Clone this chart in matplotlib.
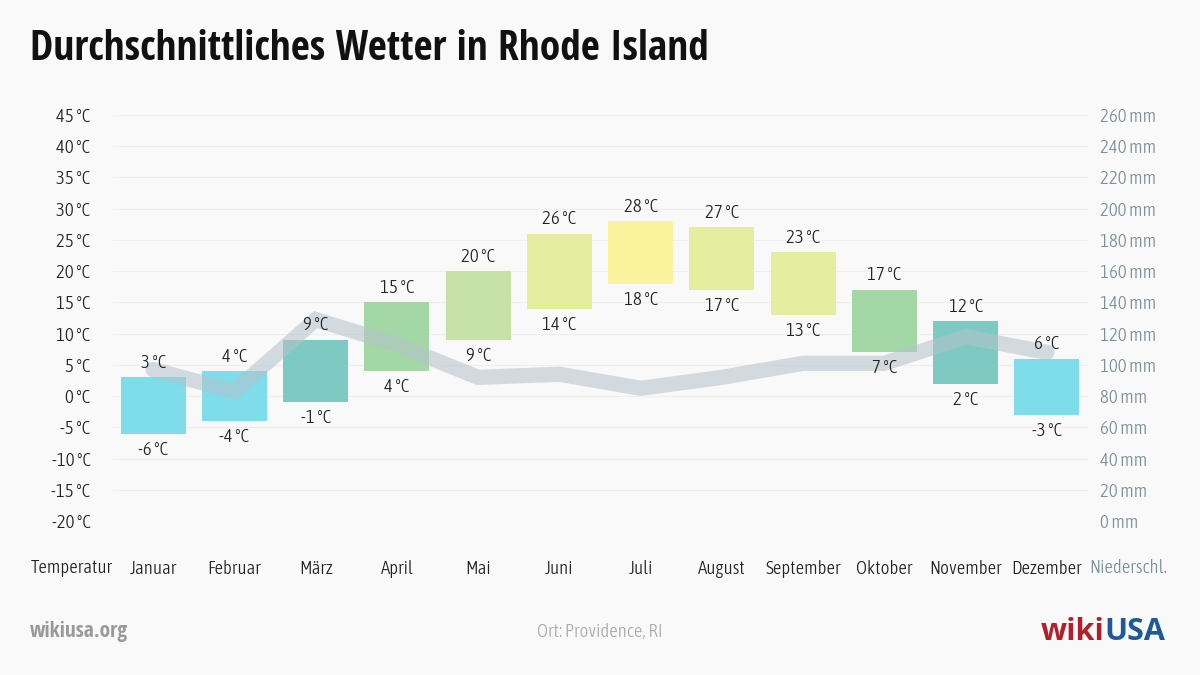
import matplotlib.pyplot as plt
from matplotlib import font_manager
from matplotlib.font_manager import FontProperties
import numpy as np

months = ['Januar', 'Februar', 'März', 'April', 'Mai', 'Juni', 'Juli',
          'August', 'September', 'Oktober', 'November', 'Dezember']
t_max = [3, 4, 9, 15, 20, 26, 28, 27, 23, 17, 12, 6]
t_min = [-6, -4, -1, 4, 9, 14, 18, 17, 13, 7, 2, -3]
precip = [97, 83, 129, 113, 92, 94, 85, 92, 101, 101, 118, 108]
colors = ['#7fdce9', '#7fdce9', '#7ecac3', '#a3d7a6', '#c6e2a7', '#e5ee9f',
          '#fbf39c', '#e5ee9f', '#e5ee9f', '#a3d7a6', '#7ecac3', '#7fdce9']

fonts = font_manager.fontManager.ttflist
names = {f.name for f in fonts}


def wnum(w):
    if isinstance(w, (int, float)):
        return int(w)
    return font_manager.weight_dict.get(w, 400)


# bold condensed family for the title
family = 'Roboto'
for cand in ['Open Sans Condensed', 'Roboto Condensed', 'Liberation Sans Narrow']:
    if cand in names:
        family = cand
        break
plt.rcParams['font.family'] = [family, 'DejaVu Sans']

# a light / regular narrow face for the rest, picked by file
narrow = [f for f in fonts
          if ('Condensed' in f.name or 'Narrow' in f.name
              or f.stretch in ('condensed', 'semi-condensed', 'extra-condensed'))
          and f.style == 'normal' and wnum(f.weight) <= 500]
narrow.sort(key=lambda f: abs(wnum(f.weight) - 300))
if narrow:
    reg_file = narrow[0].fname
else:
    reg_file = font_manager.findfont(FontProperties(family='Roboto'))


def reg(size):
    return FontProperties(fname=reg_file, size=size)


bg = '#f9f9f9'
fig = plt.figure(figsize=(12, 6.75), dpi=100, facecolor=bg)
renderer = fig.canvas.get_renderer()


def fit_size(s, target_px, maxsize, bold=False):
    if bold:
        t = fig.text(0, 0, s, fontsize=20, fontweight='bold')
    else:
        t = fig.text(0, 0, s, fontproperties=reg(20))
    w = t.get_window_extent(renderer).width
    t.remove()
    return min(maxsize, 20 * target_px / w)


fs = fit_size('September', 76, 15)
title_fs = fit_size('Durchschnittliches Wetter in Rhode Island', 680, 31, bold=True)
foot_fs = fit_size('wikiusa.org', 98, 17, bold=True)

ax = fig.add_axes([0.09375, 0.2281, 0.8125, 0.6015])
ax.set_facecolor(bg)
ax2 = ax.twinx()

x = np.arange(len(months))
heights = np.array(t_max) - np.array(t_min)
ax.bar(x, heights, bottom=t_min, width=0.8, color=colors, zorder=2)

ax2.plot(x, precip, color='#b4c2ca', lw=11, alpha=0.55, solid_capstyle='round',
         solid_joinstyle='miter', zorder=3)

# labels go on the top axes so the line does not cover them
for i in range(len(months)):
    ax2.annotate(f'{t_max[i]} °C', (x[i], t_max[i]), xycoords=ax.transData, xytext=(0, 4),
                 textcoords='offset points', ha='center', va='bottom', fontproperties=reg(fs),
                 color='#222222', zorder=5)
    ax2.annotate(f'{t_min[i]} °C', (x[i], t_min[i]), xycoords=ax.transData, xytext=(0, -5),
                 textcoords='offset points', ha='center', va='top', fontproperties=reg(fs),
                 color='#222222', zorder=5)

ax.set_xlim(-0.5, 11.5)
ax.set_ylim(-20, 45)
ax2.set_ylim(0, 260)
yt = list(range(-20, 50, 5))
ax.set_yticks(yt)
ax.set_yticklabels([f'{v} °C' for v in yt], fontproperties=reg(fs), color='#222222')
pt = list(range(0, 280, 20))
ax2.set_yticks(pt)
ax2.set_yticklabels([f'{v} mm' for v in pt], fontproperties=reg(fs), color='#7d8f99')
ax.set_xticks(x)
ax.set_xticklabels(months, fontproperties=reg(fs), color='#222222')
ax.tick_params(axis='x', length=0, pad=28)
ax.tick_params(axis='y', length=0, pad=16)
ax2.tick_params(axis='y', length=0, pad=9)
ax.grid(axis='y', color='#eeeeee', lw=0.8, zorder=0)
ax.set_axisbelow(True)
for a in (ax, ax2):
    for s in a.spines.values():
        s.set_visible(False)

fig.text(72 / 1200, 1 - 568 / 675, 'Temperatur', ha='center', va='center', fontproperties=reg(fs),
         color='#222222')
fig.text(1128 / 1200, 1 - 568 / 675, 'Niederschl.', ha='center', va='center', fontproperties=reg(fs),
         color='#7d8f99')

fig.text(30 / 1200, 1 - 50 / 675, 'Durchschnittliches Wetter in Rhode Island', ha='left', va='center',
         fontsize=title_fs, fontweight='bold', color='#111111')

fig.text(30 / 1200, 1 - 632 / 675, 'wikiusa.org', ha='left', va='center', fontsize=foot_fs,
         fontweight='bold', color='#999999')
fig.text(600 / 1200, 1 - 632 / 675, 'Ort: Providence, RI', ha='center', va='center', fontproperties=reg(fs),
         color='#aaaaaa')
fig.text(1104 / 1200, 1 - 632 / 675, 'wiki', ha='right', va='center', fontsize=22,
         fontweight='bold', color='#b0202a', family=['Open Sans', 'DejaVu Sans'])
fig.text(1104 / 1200, 1 - 632 / 675, 'USA', ha='left', va='center', fontsize=22,
         fontweight='bold', color='#1f5a96', family=['Open Sans', 'DejaVu Sans'])

fig.savefig('out.png', dpi=100, facecolor=bg)
